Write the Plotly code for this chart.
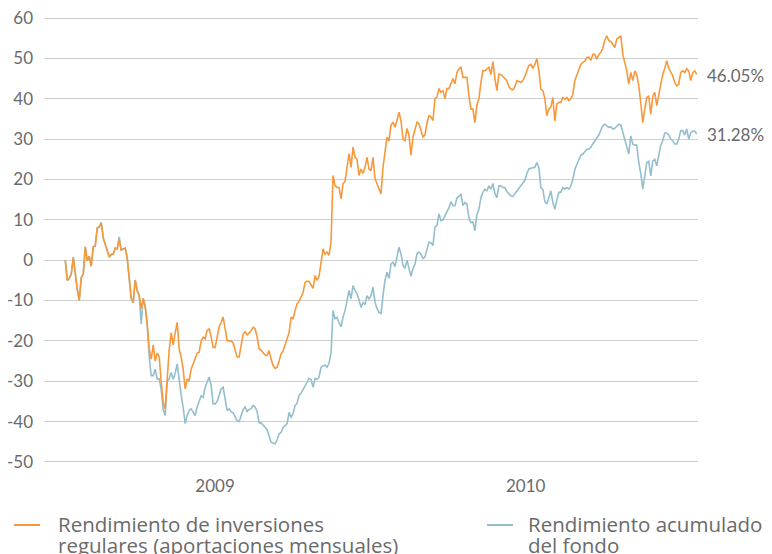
import pandas as pd
import plotly.graph_objects as go

start_date = "2008-07-09"
end_date = "2010-07-21"

# Rendimiento de inversiones regulares (aportaciones mensuales), %
regular = [
    0, -5.0, -4.5, -3.5, 0.7, -3.9, -7.2, -10, -4.3, -3.5,
    3.3, -0.2, 1, -1.5, 3.3, 3.5, 8, 8.2, 9.3, 5.5,
    3.8, 2, 0.8, 1.4, 1.5, 3, 2.8, 5, 2.5, 2.8,
    3, 0.5, -4.5, -9.5, -10.5, -4.9, -7.6, -8.8, -12, -9.5,
    -11.5, -15.5, -22, -24.5, -21, -25, -23, -24, -30, -35.2,
    -36.8, -28, -22.3, -18, -21, -18, -15.4, -22, -24, -27,
    -31.9, -29.5, -29.8, -27, -25.5, -24.5, -23, -22.8, -20, -19.1,
    -19.5, -17.4, -17, -19, -21.6, -21.6, -19, -16.5, -15.4, -14.1,
    -17, -19.9, -20, -20, -20.5, -22.5, -24, -24, -21, -18.3,
    -17.7, -18.5, -18, -17.5, -16.6, -17, -19, -22, -22.3, -22.8,
    -23.5, -23.6, -22.4, -24.5, -26.1, -26.8, -26.5, -25, -23.2, -22.5,
    -21, -19.9, -18, -14.1, -14.5, -12.5, -10.8, -10.2, -9, -8,
    -5.5, -5.2, -5.3, -6, -7, -3.8, -5, -4, -0.5, 2.8,
    1.5, 2, 1.2, 4.5, 21, 18.5, 18, 18, 15.2, 19,
    19.5, 23, 26.4, 23, 28, 25.5, 25, 21, 22.6, 21.5,
    23, 25.5, 22.6, 22.2, 25.5, 20.2, 19, 17.7, 16.4, 23,
    26.8, 30.5, 29.5, 33.4, 34.2, 33, 34.6, 36.7, 34.6, 30,
    29.6, 32.6, 31, 26, 30.5, 32.6, 34.2, 33.8, 32, 30.5,
    31, 34, 35.8, 35.5, 34.6, 40, 40.4, 42.5, 41.6, 42,
    40, 42.5, 42.5, 43.7, 45, 43.7, 46.5, 47.4, 47.8, 45.3,
    45.3, 45.3, 40.7, 37.4, 37.5, 34.1, 38.5, 40, 44, 47,
    46.9, 47.4, 47.8, 46, 49.2, 45, 42, 46.1, 46, 45.5,
    44.9, 44.5, 43, 42.4, 42.2, 43, 44.5, 44.3, 44, 44.5,
    45.5, 47, 48.2, 48.5, 47.5, 48.5, 50, 47, 42.4, 42,
    40, 35.8, 37.4, 38, 40.3, 34.5, 38.7, 39.1, 39.1, 40.3,
    39.9, 40.3, 39.5, 40, 41, 44.5, 46, 47, 48.5, 49,
    49.3, 50.2, 50.3, 49.5, 51, 51, 49.8, 51, 51.5, 52.5,
    54.5, 55.6, 54.4, 54.2, 53.5, 52.7, 54.8, 55.2, 55.6, 51,
    49, 46.9, 43.6, 46.5, 44.5, 46.9, 46, 43.2, 39, 34.1,
    37.4, 40.3, 40.7, 36.2, 40.5, 41.6, 38.3, 41, 42.8, 46.1,
    47.5, 49.4, 47.5, 46.5, 45.7, 44, 43.2, 43.6, 46.5, 46.9,
    46.5, 47.4, 46.9, 44.5, 46.5, 46.9, 46.05,
]

# Rendimiento acumulado del fondo, %
fund = [
    0, -5.0, -4.5, -3.5, 0.7, -3.9, -7.2, -10, -4.3, -3.5,
    3.3, -0.2, 1, -1.5, 3.3, 3.5, 8, 8.2, 9.3, 5.5,
    3.8, 2, 0.8, 1.4, 1.5, 3, 2.8, 5.8, 2.5, 2.8,
    3, 0.5, -4.5, -9.5, -10.5, -4.9, -7.6, -8.8, -15.8, -9.5,
    -11.5, -16, -24, -28.6, -28.6, -27, -29.4, -29.4, -32, -37,
    -38.5, -30, -29.4, -27.8, -29.5, -28, -25.7, -30, -33.5, -36.5,
    -40.5, -38.5, -37.3, -36.8, -37.5, -38.5, -36.4, -35, -33.6, -34,
    -31.5, -30.2, -29, -31, -35.6, -35.6, -35, -33.5, -31.9, -31.5,
    -35, -37.3, -36.8, -37.6, -37.8, -39, -39.8, -40, -38.5, -37,
    -36.4, -37.5, -37, -36.8, -36, -36.4, -37.5, -40.3, -40.3, -40.8,
    -41.4, -42, -43.5, -45.1, -45.3, -45.5, -44.5, -43, -42.7, -41.5,
    -41, -40.5, -37.7, -39, -38, -36, -35.5, -33.5, -33, -32,
    -31, -30, -29.3, -29.5, -31.5, -29.3, -29.5, -29, -26.5, -26.2,
    -26, -26.5, -25.5, -23, -12.5, -14.5, -14.2, -15.5, -16.5, -14.1,
    -12.5, -10, -7.5, -9.6, -6.3, -7.5, -8.3, -9.8, -11.7, -10.5,
    -11, -8.8, -9.6, -8.8, -6.7, -10.4, -12, -12.9, -13.3, -8.8,
    -5, -3, -4.5, -0.9, -0.5, -1.6, 1.2, 3.2, 1.6, -1.3,
    -2, 0, -2, -4, -2, -1, 1.6, 2, 1.5, 0.4,
    0.8, 3, 4.5, 4.3, 3.6, 8.2, 8.6, 11.5, 9.8, 10,
    11, 11.8, 13, 14.5, 13.5, 13.5, 15.4, 15.8, 16.4, 13.5,
    14.3, 13.9, 10.5, 9.3, 9.5, 7.3, 11.4, 12.6, 15.5, 16.8,
    17.6, 17.2, 18.4, 17.6, 19, 16.5, 15.5, 18.4, 18.4, 18,
    18, 17, 16.4, 15.9, 15.8, 16.5, 17.2, 17.6, 18.5, 19.3,
    19.8, 21.5, 22.6, 22.8, 23, 23, 24.2, 23, 18, 17.5,
    14.5, 13.9, 15.5, 17.2, 14.3, 12.6, 14.9, 16.8, 16.8, 18,
    17.6, 18, 17.6, 18.4, 20, 22.5, 23.7, 25, 26, 26.3,
    26.9, 27.5, 27.5, 28, 28.8, 29.5, 30.4, 31, 32.2, 33.3,
    33.7, 33.2, 32.9, 33, 32.5, 32.7, 33.3, 33.7, 33.5, 31.6,
    30, 28.3, 26.3, 30.8, 28.8, 28.5, 28.5, 24.2, 21.5, 17.6,
    20.9, 24.2, 24.5, 20.9, 24.5, 25, 23.4, 26, 28.5, 29.6,
    31.5, 31.5, 31, 30, 29.6, 28.8, 28.8, 30, 32.1, 32.1,
    31, 32.5, 30, 31.6, 32, 32, 31.28,
]

legend_lines = [
    ["Rendimiento de inversiones", "regulares (aportaciones mensuales)"],
    ["Rendimiento acumulado", "del fondo"],
]
final_labels = ["46.05%", "31.28%"]
y_ticks = list(range(-50, 61, 10))
x_ticks = ["2009-01-01", "2010-01-01"]
x_tick_text = ["2009", "2010"]

dates = pd.date_range(start_date, end_date, periods=len(regular))

ORANGE = "#f7993a"
BLUE = "#93bfcc"
GREY = "#6a6a6a"
FONT = "Lato"
LEGEND_FONT = "Open Sans"

# the page body adds an 8px margin; the figure is sized to fit the window
OFF = 8
W, H = 772 - OFF, 554 - OFF
ML, MR, MT, MB = 44 - OFF, 74, 18 - OFF - 2, 92 - 2
PW, PH = W - ML - MR, H - MT - MB


def px_x(p):
    return (p - OFF - ML) / PW


def px_y(p):
    return (H - MB - (p - OFF)) / PH


fig = go.Figure()
fig.add_trace(go.Scatter(x=dates, y=fund, mode="lines", name="fondo",
                         line=dict(color=BLUE, width=1.6), showlegend=False))
fig.add_trace(go.Scatter(x=dates, y=regular, mode="lines", name="regular",
                         line=dict(color=ORANGE, width=1.6), showlegend=False))

for val, txt in [(regular[-1], final_labels[0]), (fund[-1], final_labels[1])]:
    fig.add_annotation(x=dates[-1], y=val, text=txt, showarrow=False,
                       xanchor="left", yanchor="middle", xshift=8, yshift=-1,
                       font=dict(family=FONT, size=17, color=GREY))

# manual legend
legend_items = [(14, 40, 58, ORANGE, legend_lines[0]),
                (487, 513, 528, BLUE, legend_lines[1])]
for x0, x1, xt, col, lines in legend_items:
    fig.add_shape(type="line", xref="paper", yref="paper",
                  x0=px_x(x0), x1=px_x(x1), y0=px_y(525), y1=px_y(525),
                  line=dict(color=col, width=2))
    for i, ln in enumerate(lines):
        fig.add_annotation(xref="paper", yref="paper", x=px_x(xt - 2), y=px_y(524 + 21 * i),
                           text=ln, showarrow=False, xanchor="left", yanchor="middle",
                           font=dict(family=LEGEND_FONT, size=20.5, color=GREY))

fig.update_layout(
    width=W, height=H,
    margin=dict(l=ML, r=MR, t=MT, b=MB, autoexpand=False),
    paper_bgcolor="white", plot_bgcolor="white",
    font=dict(family=FONT, color=GREY),
    showlegend=False,
)
fig.update_xaxes(range=["2008-06-14", "2010-07-22 12:00"], tickvals=x_ticks,
                 ticktext=x_tick_text, showgrid=False, zeroline=False, automargin=False,
                 showline=False, ticks="", tickfont=dict(family=FONT, size=17, color=GREY),
                 ticklabelstandoff=10)
fig.update_yaxes(range=[-50.5, 60.5], tickvals=y_ticks, ticktext=[str(v) for v in y_ticks],
                 showgrid=True, gridcolor="#d0d0d0", gridwidth=1, zeroline=False,
                 automargin=False, ticklabeloverflow="allow",
                 showline=False, ticks="", tickfont=dict(family=FONT, size=17, color=GREY),
                 ticklabelstandoff=10)

fig.write_html("out.html")
